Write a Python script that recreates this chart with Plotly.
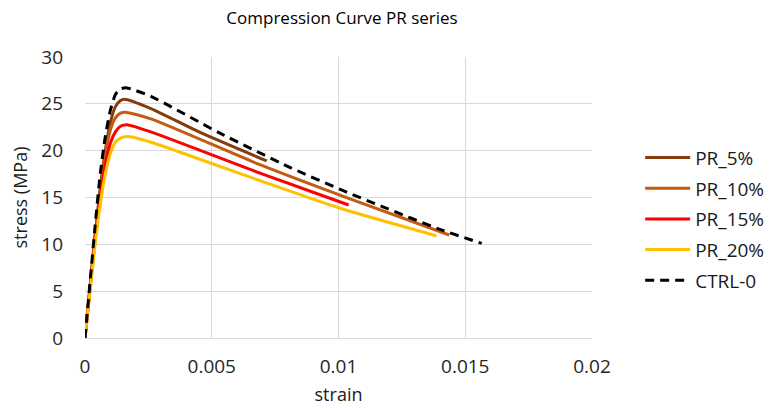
import plotly.graph_objects as go

# strain / stress readings per series
pr5_strain = [0, 0.0002, 0.0004, 0.0006, 0.0008, 0.001, 0.0012, 0.0014, 0.00155, 0.0026, 0.0045, 0.00717]
pr5_stress = [0, 5.5, 11.0, 16.0, 20.0, 23.0, 24.7, 25.35, 25.5, 24.5, 22.0, 18.9]

pr10_strain = [0, 0.0002, 0.0004, 0.0006, 0.0008, 0.001, 0.0012, 0.0014, 0.0016, 0.0026, 0.0069, 0.0104, 0.01437]
pr10_stress = [0, 5.5, 11.0, 15.5, 19.5, 22.2, 23.5, 24.0, 24.1, 23.4, 18.5, 14.9, 11.0]

pr15_strain = [0, 0.0002, 0.0004, 0.0006, 0.0008, 0.001, 0.0012, 0.0014, 0.0017, 0.0026, 0.0069, 0.0104]
pr15_stress = [0, 5.3, 10.5, 15.0, 18.5, 20.8, 22.0, 22.6, 22.75, 22.0, 17.6, 14.2]

pr20_strain = [0, 0.0002, 0.0004, 0.0006, 0.0008, 0.001, 0.0012, 0.0014, 0.0017, 0.0026, 0.0069, 0.01, 0.01387]
pr20_stress = [0, 5.0, 10.0, 14.2, 17.5, 19.7, 20.9, 21.35, 21.5, 20.9, 16.8, 13.9, 10.9]

ctrl_strain = [0, 0.0002, 0.0004, 0.0006, 0.0008, 0.001, 0.0012, 0.0014, 0.00165, 0.0026, 0.0053, 0.0081, 0.0103, 0.01175, 0.014, 0.01565]
ctrl_stress = [0, 6.0, 12.0, 17.5, 21.5, 24.3, 26.0, 26.6, 26.7, 25.8, 21.9, 18.2, 15.6, 14.0, 11.6, 10.1]

x_ticks = [0, 0.005, 0.01, 0.015, 0.02]
x_tick_labels = ["0", "0.005", "0.01", "0.015", "0.02"]
y_ticks = [0, 5, 10, 15, 20, 25, 30]

series = [
    ("PR_5%", pr5_strain, pr5_stress, "#843C0C", "solid"),
    ("PR_10%", pr10_strain, pr10_stress, "#C55A11", "solid"),
    ("PR_15%", pr15_strain, pr15_stress, "#FF0000", "solid"),
    ("PR_20%", pr20_strain, pr20_stress, "#FFC000", "solid"),
    ("CTRL-0", ctrl_strain, ctrl_stress, "#000000", "9px,6px"),
]

font = "Open Sans, Noto Sans, sans-serif"
fig = go.Figure()
for name, xs, ys, color, dash in series:
    fig.add_trace(go.Scatter(
        x=xs, y=ys, name=name, mode="lines", legendgroup=name,
        line=dict(color=color, width=3, dash=dash, shape="spline", smoothing=0.6),
    ))

fig.update_layout(
    width=772, height=409,
    margin=dict(l=85, r=180, t=57, b=71, autoexpand=False),
    paper_bgcolor="white", plot_bgcolor="white",
    font=dict(family=font, size=18, color="#262626"),
    title=dict(text="Compression Curve PR series", x=342 / 772, xanchor="center",
               y=1 - 18 / 409, yanchor="middle",
               font=dict(family=font, size=17, color="#000000")),
    legend=dict(x=1.095, y=0.423, xanchor="left", yanchor="middle",
                font=dict(family=font, size=19, color="#1a1a1a"),
                tracegroupgap=3, itemwidth=45, bgcolor="rgba(0,0,0,0)"),
    showlegend=True,
)
fig.update_xaxes(
    range=[0, 0.02], tickvals=x_ticks, ticktext=x_tick_labels,
    showgrid=True, gridcolor="#D9D9D9", gridwidth=1,
    showline=True, linecolor="#D9D9D9", linewidth=1,
    zeroline=False, ticks="", ticklabelstandoff=11, automargin=False,
    title=dict(text="strain", font=dict(family=font, size=18, color="#1a1a1a"), standoff=10),
    tickfont=dict(color="#262626", size=19),
)
fig.update_yaxes(
    range=[0, 30], tickvals=y_ticks,
    showgrid=True, gridcolor="#D9D9D9", gridwidth=1,
    showline=False, zeroline=False, ticks="", ticklabelstandoff=21, automargin=False,
    title=dict(text="stress (MPa)", font=dict(family=font, size=18, color="#1a1a1a"), standoff=8),
    tickfont=dict(color="#262626", size=19),
)

fig.write_html("out.html")
